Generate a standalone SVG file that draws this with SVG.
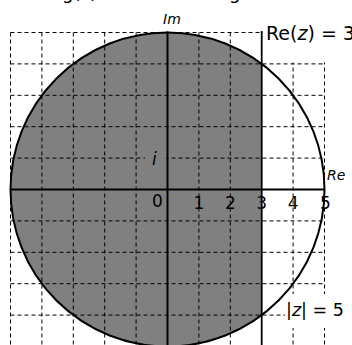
<svg xmlns="http://www.w3.org/2000/svg" width="352" height="345" viewBox="0 0 352 345">
<style>
.grid{stroke:#000;stroke-width:1;stroke-dasharray:4,3;fill:none}
.axis{stroke:#000;stroke-width:2;fill:none}
.num{font-family:"DejaVu Sans",sans-serif;font-size:17px;fill:#000;text-anchor:middle}
.lbl{font-family:"DejaVu Sans",sans-serif;fill:#000}
</style>
<rect width="352" height="345" fill="#fff"/>
<g id="top-text">
<text class="lbl" x="62" y="-1" font-size="18">g(z)</text>
<text class="lbl" x="229" y="-1" font-size="18">g</text>
</g>
<g id="region">
<path d="M261.7 63.9 A157 157 0 1 0 261.7 315.1 Z" fill="#808080"/>
</g>
<g id="grid">
<path class="grid" d="M10.5 32.5V345 M41.9 32.5V345 M73.3 32.5V345 M104.7 32.5V345 M136.1 32.5V345 M198.9 32.5V345 M230.3 32.5V345 M293.1 32.5V345 M324.5 32.5V345"/>
<path class="grid" d="M10.5 32.5H324.5 M10.5 63.9H324.5 M10.5 95.3H324.5 M10.5 126.7H324.5 M10.5 158.1H324.5 M10.5 220.9H324.5 M10.5 252.3H324.5 M10.5 283.7H324.5 M10.5 315.1H324.5"/>
</g>
<g id="label-bgs">
<rect x="263" y="0" width="89" height="62.5" fill="#fff"/>
<rect x="285" y="294" width="62" height="34" fill="#fff"/>
<rect x="145" y="150" width="21" height="16" fill="#808080"/>
</g>
<g id="connectors">
<circle id="circle" cx="167.5" cy="189.5" r="157" fill="none" stroke="#000" stroke-width="2"/>
<path class="axis" d="M167.5 31.5V345 M10 189.5H325"/>
<path id="re3" d="M261.7 31V345" stroke="#000" stroke-width="1.8"/>
</g>
<g id="labels">
<text class="lbl" x="163" y="24" font-size="14" font-style="italic" font-family="DejaVu Serif,serif">Im</text>
<text class="lbl" x="152" y="165" font-size="17" font-style="italic">i</text>
<text class="lbl" x="327" y="180" font-size="14" font-style="italic">Re</text>
<text class="lbl" x="266" y="40" font-size="19">Re(<tspan font-style="italic">z</tspan>) = 3</text>
<text class="lbl" x="286" y="315.5" font-size="17.5">|<tspan font-style="italic">z</tspan>| = 5</text>
</g>
<g id="ticks">
<text class="num" x="157.5" y="207">0</text>
<text class="num" x="198.9" y="209">1</text>
<text class="num" x="230.3" y="209">2</text>
<text class="num" x="261.7" y="209">3</text>
<text class="num" x="293.1" y="209">4</text>
<text class="num" x="325.5" y="209">5</text>
</g>
</svg>
